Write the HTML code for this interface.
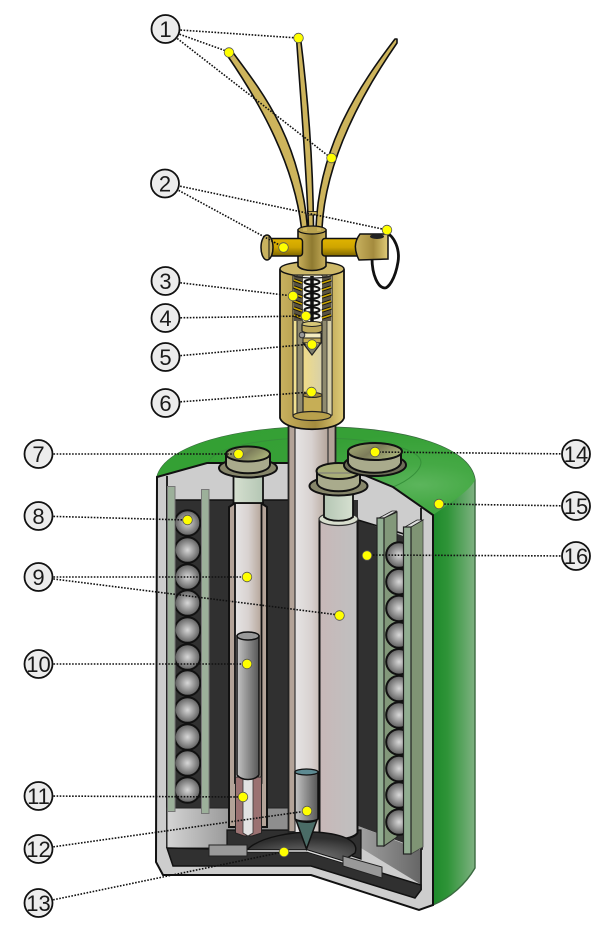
<!DOCTYPE html>
<html><head><meta charset="utf-8"><style>html,body{margin:0;padding:0;background:#fff}svg{display:block}text{font-family:"Liberation Sans",sans-serif;font-size:22px;text-anchor:middle;fill:#1a1a1a}</style></head><body>
<svg width="600" height="933" viewBox="0 0 600 933" xmlns="http://www.w3.org/2000/svg">
<defs>
<linearGradient id="side" gradientUnits="userSpaceOnUse" x1="433" x2="475" y1="0" y2="0"><stop offset="0" stop-color="#1d8a2a"/><stop offset=".35" stop-color="#2f9438"/><stop offset="1" stop-color="#7fb282"/></linearGradient>
<radialGradient id="dome" gradientUnits="userSpaceOnUse" cx="420" cy="485" r="300" gradientTransform="translate(0 320) scale(1 .34)"><stop offset="0" stop-color="#5cb55c"/><stop offset=".2" stop-color="#45a945"/><stop offset=".5" stop-color="#36a036"/><stop offset="1" stop-color="#33a033"/></radialGradient>
<radialGradient id="ball" cx=".5" cy=".5" r=".5"><stop offset="0" stop-color="#d8d8d8"/><stop offset="1" stop-color="#5e5e5e"/></radialGradient>
<linearGradient id="brass" x1="0" x2="1" y1="0" y2="0"><stop offset="0" stop-color="#c9b25f"/><stop offset=".55" stop-color="#a48b3e"/><stop offset="1" stop-color="#e0cc78"/></linearGradient>
<linearGradient id="hub" x1="0" x2="1" y1="0" y2="0"><stop offset="0" stop-color="#c8b05c"/><stop offset=".5" stop-color="#8f7a30"/><stop offset="1" stop-color="#c8b05c"/></linearGradient>
<linearGradient id="arm" x1="0" x2="0" y1="0" y2="1"><stop offset="0" stop-color="#e0b400"/><stop offset=".5" stop-color="#cfa500"/><stop offset="1" stop-color="#7d6500"/></linearGradient>
<linearGradient id="tube" x1="0" x2="1" y1="0" y2="0"><stop offset="0" stop-color="#e6e4e4"/><stop offset=".5" stop-color="#d8d2d0"/><stop offset="1" stop-color="#b5a59a"/></linearGradient>
<linearGradient id="bigtube" x1="0" x2="1" y1="0" y2="0"><stop offset="0" stop-color="#c8b8b8"/><stop offset="1" stop-color="#bfc0c0"/></linearGradient>
<linearGradient id="steel" x1="0" x2="1" y1="0" y2="0"><stop offset="0" stop-color="#c4c4c4"/><stop offset="1" stop-color="#565656"/></linearGradient>
<linearGradient id="neck" x1="0" x2="1" y1="0" y2="0"><stop offset="0" stop-color="#b4c6b4"/><stop offset="1" stop-color="#d6e0d0"/></linearGradient>
<linearGradient id="captop" x1="0" x2="1" y1="0" y2=".5"><stop offset="0" stop-color="#a8b078"/><stop offset=".55" stop-color="#7c7c5a"/><stop offset="1" stop-color="#a8b078"/></linearGradient>
<linearGradient id="floorL" gradientUnits="userSpaceOnUse" x1="167" x2="240" y1="0" y2="0"><stop offset="0" stop-color="#d4d4d4"/><stop offset="1" stop-color="#8e8e8e"/></linearGradient>
<linearGradient id="floorR" gradientUnits="userSpaceOnUse" x1="358" x2="421" y1="0" y2="0"><stop offset="0" stop-color="#a2a2a2"/><stop offset="1" stop-color="#666"/></linearGradient>
<linearGradient id="pin" x1="0" x2="1" y1="0" y2="0"><stop offset="0" stop-color="#f0dc88"/><stop offset="1" stop-color="#d8d0a8"/></linearGradient>
<radialGradient id="bowl" cx=".55" cy=".9" r=".7"><stop offset="0" stop-color="#7a7a7a"/><stop offset="1" stop-color="#2e2e2e"/></radialGradient>
</defs>

<!-- green body -->
<path d="M157 477C165 445 240 427 315 427C400 427 470 445 475 480V868C465 885 450 898 433 905Z" fill="url(#side)" stroke="#3a6a40" stroke-width="1.400"/>
<path d="M157 477C165 445 240 427 315 427C400 427 470 445 475 480C470 490 455 500 433 515L393 487L207 463Z" fill="url(#dome)"/>
<path d="M208 463C212 448 260 438 315 438C375 438 420 448 421 462C421 470 410 480 393 487" fill="none" stroke="#36903a" stroke-width="1"/>
<!-- shell cut -->
<path d="M157 477L207 463H335L393 487L433 515V905L419 910L311 875H163L156 862Z" fill="#cdcdcd" stroke="#111" stroke-width="2"/>
<!-- interior -->
<path d="M175 500H358V520L423 543V850L358 826V808H175Z" fill="#303030"/>
<path d="M167 476V848M421 508V890" fill="none" stroke="#111" stroke-width="1.800"/>
<path d="M175 500H290M358 520L404 534" stroke="#111" stroke-width="1.600" fill="none"/>
<path d="M167 808H289V835H227V848H167Z" fill="url(#floorL)" stroke="#222" stroke-width="1"/>
<path d="M358 826L384 836L420 850V884L361 848Z" fill="url(#floorR)"/>
<path d="M167 848L310 851L421 885V890L415 898L311 866H173Z" fill="#303030" stroke="#111" stroke-width="1.500"/>
<path d="M227 830H361V859L340 852L307 850H227Z" fill="#303030" stroke="#111" stroke-width="1.200"/>

<!-- center tube -->
<rect x="288.500" y="420" width="47" height="412" fill="#b3a398" stroke="#222" stroke-width="1.800"/>
<rect x="295" y="420" width="33" height="412" fill="url(#tube)"/>
<path d="M295 420V832M328 420V832" stroke="#333" stroke-width="1.200"/>

<!-- left balls -->
<g fill="url(#ball)" stroke="#111" stroke-width="2">
<circle cx="187.500" cy="523" r="12.800"/><circle cx="187.500" cy="550" r="12.800"/><circle cx="187.500" cy="577" r="12.800"/><circle cx="187.500" cy="603" r="12.800"/><circle cx="187.500" cy="630" r="12.800"/><circle cx="187.500" cy="657" r="12.800"/><circle cx="187.500" cy="683" r="12.800"/><circle cx="187.500" cy="710" r="12.800"/><circle cx="187.500" cy="737" r="12.800"/><circle cx="187.500" cy="763" r="12.800"/><circle cx="187.500" cy="790" r="12.800"/>
</g>
<rect x="167.500" y="486.500" width="7.500" height="325" fill="#9cb09a" stroke="#777" stroke-width="1"/>
<rect x="201.500" y="489.500" width="7.500" height="324" fill="#9cb09a" stroke="#777" stroke-width="1"/>

<!-- left tube -->
<path d="M229 827V507L235 503H261L267 507V827Z" fill="#b3a398" stroke="#111" stroke-width="2"/>
<rect x="235" y="503" width="26.500" height="280" fill="url(#tube)" stroke="#111" stroke-width="1.800"/>
<path d="M235.500 777H261.500V833L252 836H244L235.500 833Z" fill="#9b7272" stroke="#222" stroke-width="1"/>
<path d="M243 778H253V833L248 836L243 833Z" fill="#e2e2e2" stroke="#333" stroke-width=".8"/>
<path d="M237 636V775C242 781 254 781 259 775V636Z" fill="url(#steel)" stroke="#111" stroke-width="1.500"/>
<ellipse cx="248" cy="636" rx="11" ry="4" fill="#999" stroke="#111" stroke-width="1.500"/>
<rect x="233.500" y="475" width="29.500" height="28" fill="url(#neck)" stroke="#111" stroke-width="1.800" transform="matrix(-1 0 0 1 496.500 0)"/>
<ellipse cx="248" cy="468" rx="29" ry="9.500" fill="#86866a" stroke="#111" stroke-width="2"/>
<path d="M226 454V465C228 476 268 476 270 465V454Z" fill="#a9ab8c" stroke="#111" stroke-width="2"/>
<ellipse cx="248" cy="454" rx="22" ry="7.500" fill="url(#captop)" stroke="#111" stroke-width="2"/>

<!-- right big tube -->
<path d="M319.500 519V833C325 841 352 841 357.500 833V519Z" fill="url(#bigtube)" stroke="#111" stroke-width="2"/>
<ellipse cx="338.500" cy="519" rx="19.500" ry="6.500" fill="#d8dece" stroke="#333" stroke-width="1.200"/>
<path d="M324 494V517C330 522 347 522 353 517V494Z" fill="url(#neck)" stroke="#111" stroke-width="1.800"/>
<ellipse cx="338.500" cy="486" rx="29" ry="9.500" fill="#86866a" stroke="#111" stroke-width="2"/>
<path d="M317 471V483C319 494 358 494 360 483V471Z" fill="#a9ab8c" stroke="#111" stroke-width="2"/>
<ellipse cx="338.500" cy="471" rx="22" ry="8" fill="#a8ae78" stroke="#111" stroke-width="2"/>
<path d="M318 473H359" stroke="#777" stroke-width="1"/>

<!-- back cap 14 -->
<ellipse cx="375" cy="465" rx="31" ry="11" fill="#6e6e58" stroke="#111" stroke-width="2"/>
<path d="M348 452V463C352 476 397 476 401 463V452Z" fill="#a9ab8c" stroke="#111" stroke-width="2"/>
<ellipse cx="375" cy="451.500" rx="27" ry="8.500" fill="url(#captop)" stroke="#111" stroke-width="2"/>

<!-- right balls, plates -->
<path d="M384 518L397 512V837L384 846Z" fill="#82987a" stroke="#222" stroke-width="1"/>
<path d="M379 518L392 511H397L384 518Z" fill="#ddd" stroke="#222" stroke-width=".8"/>
<g fill="url(#ball)" stroke="#111" stroke-width="2">
<circle cx="399" cy="555" r="12.800"/><circle cx="399" cy="581.700" r="12.800"/><circle cx="399" cy="608.400" r="12.800"/><circle cx="399" cy="635" r="12.800"/><circle cx="399" cy="661.800" r="12.800"/><circle cx="399" cy="688.500" r="12.800"/><circle cx="399" cy="715" r="12.800"/><circle cx="399" cy="742" r="12.800"/><circle cx="399" cy="768.600" r="12.800"/><circle cx="399" cy="795" r="12.800"/><circle cx="399" cy="822" r="12.800"/>
</g>
<rect x="377" y="518" width="7" height="328" fill="#92ae92" stroke="#222" stroke-width="1.200"/>
<path d="M411 527L423 520V847L411 854Z" fill="#7f9474" stroke="#444" stroke-width=".8"/>
<path d="M405 527L417 520H423L411 527Z" fill="#ddd" stroke="#222" stroke-width=".8"/>
<rect x="403.500" y="527" width="7.500" height="327" fill="#92ae92" stroke="#222" stroke-width="1.200"/>

<!-- bowl / striker -->
<path d="M247 850C260 836 295 832 312 832C340 833 360 840 355 853L343 861L307 850Z" fill="url(#bowl)" stroke="#111" stroke-width="1.400"/>
<path d="M247 851H307L343 862" fill="none" stroke="#111" stroke-width="3"/>
<path d="M247 851H307L343 862" fill="none" stroke="#ddd" stroke-width="1.400"/>
<rect x="209" y="845" width="38" height="11" fill="#999" stroke="#222" stroke-width="1"/>
<path d="M343 856L382 867V878L343 866Z" fill="#999" stroke="#222" stroke-width="1"/>
<path d="M295 772V819C300 822 313 822 318 819V772Z" fill="url(#steel)" stroke="#111" stroke-width="1.500"/>
<ellipse cx="306.500" cy="772" rx="11.500" ry="3" fill="#5d8a92" stroke="#111" stroke-width="1.200"/>
<path d="M296 820C302 823 312 823 317 820L306.500 849Z" fill="#4a6c66" stroke="#111" stroke-width="1.500"/>

<!-- housing -->
<path d="M280 270V418C285 433 339 433 344 418V270Z" fill="url(#brass)" stroke="#111" stroke-width="1.800"/>
<ellipse cx="312" cy="269" rx="32" ry="7.500" fill="#cdb868" stroke="#111" stroke-width="1.500"/>
<rect x="293" y="275" width="39" height="140" fill="#f0e090" stroke="#222" stroke-width="1.200"/>
<rect x="297" y="275" width="6" height="140" fill="#8f8a6e" stroke="#222" stroke-width="1"/>
<rect x="322" y="275" width="6" height="140" fill="#8f8a6e" stroke="#222" stroke-width="1"/>
<rect x="327" y="275" width="5" height="140" fill="#d8d0a8" stroke="#222" stroke-width=".8"/>
<rect x="303" y="275" width="19" height="140" fill="url(#pin)" stroke="#222" stroke-width="1"/>
<rect x="294" y="276" width="37" height="45" fill="#5a5444"/>
<rect x="303" y="276" width="19" height="45" fill="#f4f4f0"/>
<g stroke="#111" stroke-width="3.400" fill="none">
<path d="M294 280L302 283M294 287L302 290M294 294L302 297M294 301L302 304M294 308L302 311M294 315L302 318M331 280L322 283M331 287L322 290M331 294L322 297M331 301L322 304M331 308L322 311M331 315L322 318"/></g>
<g stroke="#c9a400" stroke-width="1.500" fill="none">
<path d="M294 280L302 283M294 287L302 290M294 294L302 297M294 301L302 304M294 308L302 311M294 315L302 318M331 280L322 283M331 287L322 290M331 294L322 297M331 301L322 304M331 308L322 311M331 315L322 318"/></g>
<path d="M312 276V322" stroke="#111" stroke-width="3.500"/>
<g fill="none" stroke="#111" stroke-width="2"><ellipse cx="312" cy="282" rx="7.500" ry="2.600"/><ellipse cx="312" cy="289" rx="7.500" ry="2.600"/><ellipse cx="312" cy="296" rx="7.500" ry="2.600"/><ellipse cx="312" cy="303" rx="7.500" ry="2.600"/><ellipse cx="312" cy="310" rx="7.500" ry="2.600"/><ellipse cx="312" cy="316" rx="7.500" ry="2.600"/></g>
<path d="M302 325V331C305 334 319 334 322 331V325Z" fill="#bda95a" stroke="#222" stroke-width="1.200"/>
<ellipse cx="312" cy="324" rx="10" ry="2.500" fill="#d8c878" stroke="#222" stroke-width="1"/>
<rect x="303" y="333" width="18" height="5" fill="#f4ecc0" stroke="#222" stroke-width="1"/>
<rect x="303" y="338" width="18" height="5" fill="#c6ae56" stroke="#222" stroke-width="1"/>
<path d="M303 343H321L312 355Z" fill="#7e7e6e" stroke="#222" stroke-width="1.200"/>
<path d="M305 343H319L312 349Z" fill="#c6ae56"/>
<circle cx="302" cy="335" r="2.800" fill="#999" stroke="#333" stroke-width="1"/>
<path d="M303 395V412C306 416 319 416 322 412V395Z" fill="#c6ae56" stroke="#222" stroke-width="1.200"/>
<ellipse cx="312.500" cy="395" rx="9.500" ry="2.500" fill="#a48b3e" stroke="#222" stroke-width="1"/>
<ellipse cx="312" cy="416" rx="19" ry="4.500" fill="#b8a04c" stroke="#222" stroke-width="1.200"/>
<path d="M293 275C296 279 329 279 332 275" fill="none" stroke="#222" stroke-width="1.200"/>

<!-- wires -->
<g fill="#cdb45c" stroke="#111" stroke-width="1.600" stroke-linejoin="round">
<path d="M231 50C264 94 300 140 307.500 228H301.500C294 165 262 106 227 55Z"/>
<path d="M296.500 38C300 90 306 160 308.500 228H313.500C313 160 307 90 300.500 38Z"/>
<path d="M397 43V39L395 39C360 85 319 145 316 228H322C325 170 352 108 397 43Z"/>
</g>
<rect x="308" y="211.500" width="9" height="3.500" fill="#cdb45c" stroke="#111" stroke-width=".8"/>

<!-- hub & arms -->
<path d="M385 232C395 236 400 250 398 262C395 280 388 288 385 288C378 288 372 275 372 258" fill="none" stroke="#111" stroke-width="2.800"/>
<path d="M298 230V266C302 272 322 272 326 266V230Z" fill="url(#hub)" stroke="#111" stroke-width="1.600"/>
<ellipse cx="312" cy="230" rx="14" ry="4" fill="#b9a24f" stroke="#111" stroke-width="1.200"/>
<path d="M303 228H307V231H303ZM317 228H321V231H317Z" fill="#cdb45c"/>
<rect x="265" y="238.500" width="37.500" height="17.500" rx="3" fill="url(#arm)" stroke="#111" stroke-width="1.500"/>
<ellipse cx="267" cy="247.500" rx="6" ry="12.500" fill="#c9b25f" stroke="#111" stroke-width="1.500"/>
<path d="M269 235.500V259" stroke="#111" stroke-width="1"/>
<rect x="322" y="238.500" width="38" height="17.500" rx="3" fill="url(#arm)" stroke="#111" stroke-width="1.500"/>
<path d="M360 234H388V259L359 260C354 250 354 242 360 234Z" fill="url(#brass)" stroke="#111" stroke-width="1.500"/>
<ellipse cx="377" cy="236.500" rx="7" ry="2.500" fill="#222"/>

<!-- leaders -->
<g stroke="#111" stroke-width="1.600" stroke-dasharray="1.600 1.500" fill="none">
<path d="M165 29L298 38M165 29L229 52M165 29L331 158M165 183L387 230M165 183L283 247M165 281L293 296M165 318L306 316M165 357L312 344M165 403L311 392M38 454H238M38 516L187 520M38 577H247M38 577L339 615M38 664H247M38 796L243 797M38 849L307 811M38 903L283 852M576 454L375 452M576 506L438 504M576 556L367 555"/>
</g>

<!-- dots -->
<g fill="#ffff00" stroke="#555" stroke-width=".8">
<circle cx="298.500" cy="38" r="4.800"/><circle cx="229" cy="52.500" r="4.800"/><circle cx="331.500" cy="158" r="4.800"/><circle cx="387" cy="230" r="4.800"/><circle cx="283.500" cy="247.500" r="4.800"/><circle cx="293" cy="296" r="4.800"/><circle cx="306" cy="316" r="4.800"/><circle cx="312" cy="344.500" r="4.800"/><circle cx="311.500" cy="392" r="4.800"/><circle cx="238.500" cy="454" r="4.800"/><circle cx="187.500" cy="520" r="4.800"/><circle cx="247" cy="577" r="4.800"/><circle cx="339.500" cy="615.500" r="4.800"/><circle cx="247" cy="664" r="4.800"/><circle cx="243" cy="797" r="4.800"/><circle cx="307" cy="811" r="4.800"/><circle cx="284" cy="852" r="4.800"/><circle cx="375" cy="452" r="4.800"/><circle cx="439" cy="504" r="4.800"/><circle cx="367" cy="555.500" r="4.800"/>
</g>

<!-- labels -->
<g fill="#ececec" stroke="#111" stroke-width="1.800">
<circle cx="165.500" cy="29" r="14"/><circle cx="165" cy="183.500" r="14"/><circle cx="165.500" cy="281" r="14"/><circle cx="165.500" cy="318" r="14"/><circle cx="165.500" cy="357" r="14"/><circle cx="165.500" cy="403" r="14"/>
<circle cx="38.500" cy="454" r="14"/><circle cx="38.500" cy="516" r="14"/><circle cx="38.500" cy="577" r="14"/><circle cx="38.500" cy="664" r="14"/><circle cx="38.500" cy="796" r="14"/><circle cx="38.500" cy="849" r="14"/><circle cx="38.500" cy="903" r="14"/>
<circle cx="576" cy="454" r="14"/><circle cx="576" cy="506" r="14"/><circle cx="576" cy="556" r="14"/>
</g>
<text x="165.500" y="37">1</text><text x="165" y="191.500">2</text><text x="165.500" y="289">3</text><text x="165.500" y="326">4</text><text x="165.500" y="365">5</text><text x="165.500" y="411">6</text>
<text x="38.500" y="462">7</text><text x="38.500" y="524">8</text><text x="38.500" y="585">9</text><text x="38.500" y="672">10</text><text x="38.500" y="804">11</text><text x="38.500" y="857">12</text><text x="38.500" y="911">13</text>
<text x="576" y="462">14</text><text x="576" y="514">15</text><text x="576" y="564">16</text>
</svg>
</body></html>
